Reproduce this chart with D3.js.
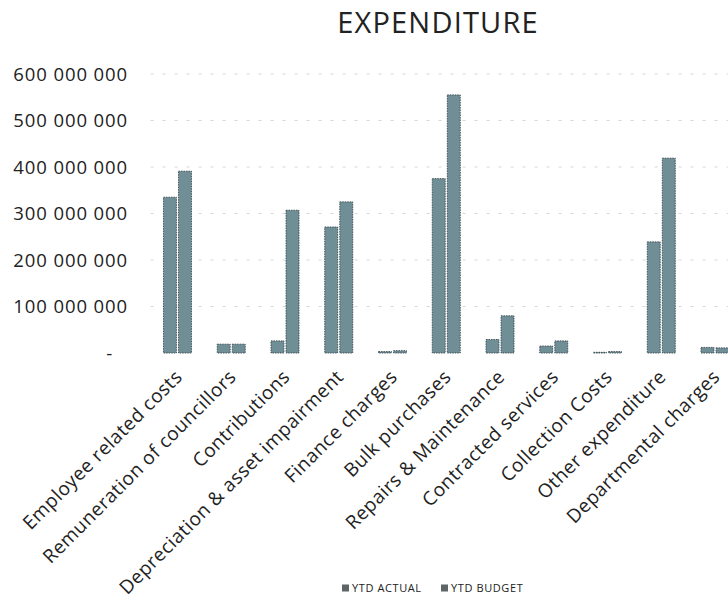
<!DOCTYPE html>
<html>
<head>
<meta charset="utf-8">
<script src="https://cdn.jsdelivr.net/npm/d3@7"></script>
<style>
  html, body { margin: 0; padding: 0; background: #fff; }
  svg { display: block; }
  text { font-family: "Open Sans", "DejaVu Sans", sans-serif; fill: #222; }
</style>
</head>
<body>
<svg id="chart" width="728" height="603"></svg>
<script>
// Expenditure by category: year-to-date actual vs budget
const categories = [
  "Employee related costs",
  "Remuneration of councillors",
  "Contributions",
  "Depreciation & asset impairment",
  "Finance charges",
  "Bulk purchases",
  "Repairs & Maintenance",
  "Contracted services",
  "Collection Costs",
  "Other expenditure",
  "Departmental charges"
];
const ytdActual = [335e6, 19e6, 26e6, 271e6, 3e6, 375e6, 29e6, 15e6, 1.5e6, 239e6, 12e6];
const ytdBudget = [391e6, 19e6, 307e6, 325e6, 5e6, 555e6, 80e6, 26e6, 3e6, 419e6, 11e6];
const seriesNames = ["YTD ACTUAL", "YTD BUDGET"];
const yTicks = [0, 100e6, 200e6, 300e6, 400e6, 500e6, 600e6];

const svg = d3.select("#chart");
const barFill = "#6f8e96";
const barStroke = "#3a4a50";

const plot = { left: 150.6, right: 741.9, top: 74, bottom: 353 };

const x0 = d3.scaleBand().domain(categories).range([plot.left, plot.right]).padding(0);
const x1 = d3.scaleBand().domain(seriesNames).range([0, 28]).paddingInner(0.14);
const y = d3.scaleLinear().domain([0, 600e6]).range([plot.bottom, plot.top]);

// Title
svg.append("text")
  .attr("x", 438).attr("y", 33)
  .attr("text-anchor", "middle")
  .style("font-size", "29px")
  .style("letter-spacing", "1.2px")
  .text("EXPENDITURE");

// Faint dotted gridlines
svg.append("g")
  .selectAll("line")
  .data(yTicks.filter(d => d > 0))
  .join("line")
  .attr("x1", plot.left).attr("x2", 728)
  .attr("y1", d => y(d)).attr("y2", d => y(d))
  .attr("stroke", "#d3d7d8")
  .attr("stroke-width", 1)
  .attr("stroke-dasharray", "3,9");

// Y axis labels
const fmt = d => d === 0 ? "-" : d3.format(",")(d).replace(/,/g, " ");
const yAxis = d3.axisLeft(y).tickValues(yTicks).tickFormat(fmt).tickSize(0).tickPadding(0);
const yg = svg.append("g").attr("transform", "translate(128,0)").call(yAxis);
yg.select(".domain").remove();
yg.selectAll("text")
  .style("font-size", "18.5px")
  .style("letter-spacing", "0.9px")
  .style("font-family", "'Open Sans', sans-serif")
  .attr("fill", "#222")
  .attr("dy", "0.35em");
yg.selectAll(".tick").filter(d => d === 0).select("text").attr("x", -15);

// Bars
const rows = categories.map((c, i) => ({ cat: c, vals: [ytdActual[i], ytdBudget[i]] }));
const groupOffset = (x0.bandwidth() - 28) / 2;
const groups = svg.append("g")
  .selectAll("g")
  .data(rows)
  .join("g")
  .attr("transform", d => `translate(${x0(d.cat) + groupOffset},0)`);

groups.selectAll("rect")
  .data(d => d.vals.map((v, k) => ({ key: seriesNames[k], v })))
  .join("rect")
  .attr("x", d => x1(d.key))
  .attr("width", x1.bandwidth())
  .attr("y", d => y(d.v))
  .attr("height", d => y(0) - y(d.v))
  .attr("fill", barFill)
  .attr("stroke", barStroke)
  .attr("stroke-width", 0.9)
  .attr("stroke-dasharray", "1.5,1");

// Category labels, rotated
const xg = svg.append("g");
xg.selectAll("text")
  .data(categories)
  .join("text")
  .attr("text-anchor", "end")
  .attr("transform", d => {
    const cx = x0(d) + x0.bandwidth() / 2 + 6;
    return `translate(${cx},378) rotate(-45)`;
  })
  .style("font-size", "19px")
  .style("letter-spacing", "0.5px")
  .text(d => d);

// Legend
const legend = svg.append("g").attr("transform", "translate(342,588)");
const legendX = [0, 99];
seriesNames.forEach((name, k) => {
  const g = legend.append("g").attr("transform", `translate(${legendX[k]},0)`);
  g.append("rect").attr("x", 0).attr("y", -3.5).attr("width", 7).attr("height", 7).attr("fill", "#5f6467");
  g.append("text").attr("x", 10).attr("y", 0).attr("dy", "0.35em")
    .style("font-size", "11px")
    .style("letter-spacing", "0.6px")
    .attr("fill", "#333").text(name);
});
</script>
</body>
</html>
